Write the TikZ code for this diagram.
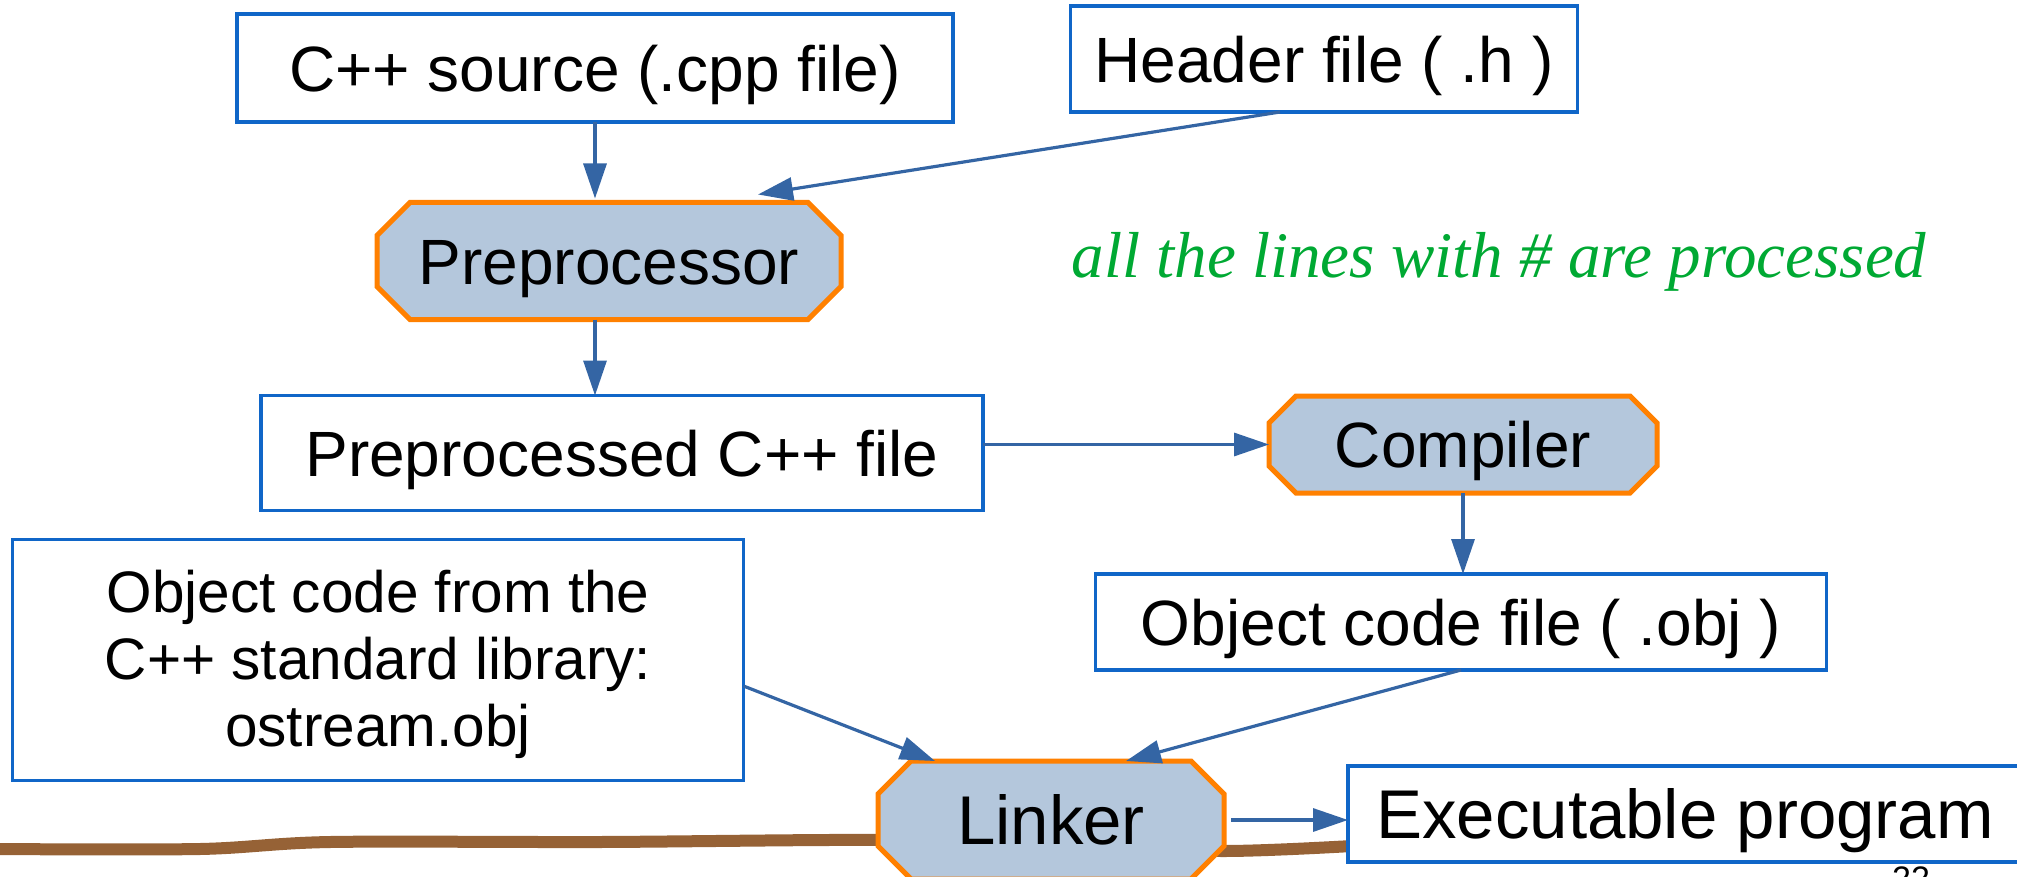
\documentclass[tikz,border=0pt]{standalone}
\usepackage{fontspec}
\setmainfont{Liberation Sans}
\newfontfamily\notefont{Liberation Serif}
\usetikzlibrary{arrows.meta,backgrounds,calc}
\definecolor{boxblue}{RGB}{16,102,200}
\definecolor{arrowblue}{HTML}{3465A4}
\definecolor{octfill}{HTML}{B4C7DC}
\definecolor{octorange}{HTML}{FF8000}
\definecolor{notegreen}{HTML}{00A933}
\definecolor{lineBrown}{RGB}{150,98,54}
\newcommand\drawoct[2]{\draw[octline] ([xshift=#2]#1.north west) -- ([xshift=-#2]#1.north east) -- ([yshift=-#2]#1.north east) -- ([yshift=#2]#1.south east) -- ([xshift=-#2]#1.south east) -- ([xshift=#2]#1.south west) -- ([yshift=#2]#1.south west) -- ([yshift=-#2]#1.north west) -- cycle;}
\begin{document}
\begin{tikzpicture}[x=1pt,y=-1pt,
  box/.style={draw=boxblue, line width=3.5pt, fill=white, inner sep=0pt, outer sep=0pt},
  octnode/.style={draw=none, inner sep=0pt, outer sep=0pt},
  octline/.style={draw=octorange, fill=octfill, line width=5pt, line join=miter},
  conn/.style={draw=arrowblue, line width=3.2pt, -{Triangle[length=35pt,width=23pt]}},
  fs/.style={font=\fontsize{#1}{#1}\selectfont, text height=0.72*#1, text depth=0pt}
]
\useasboundingbox (0,0) rectangle (2017,877);

% nodes
\node[box, fs=64, minimum width=716, minimum height=108] (src) at (595,68) {C++ source (.cpp file)};
\node[box, fs=64, minimum width=507, minimum height=106] (hdr) at (1324,59) {Header file ( .h )};
\node[octnode, fs=64, minimum width=464, minimum height=117] (pre) at (609,261) {Preprocessor};
\node[box, fs=64, minimum width=722, minimum height=115] (ppf) at (622,453) {Preprocessed C++ file};
\node[octnode, fs=64, minimum width=388, minimum height=97] (comp) at (1463,444.5) {Compiler};
\node[box, minimum width=731, minimum height=241, align=center, text height=180pt, text depth=8pt,
      font=\fontsize{58.5}{67}\selectfont] (lib) at (378,660) {Object code from the\\C++ standard library:\\ostream.obj};
\node[box, fs=64, minimum width=731, minimum height=96] (obj) at (1461,622) {Object code file ( .obj )};
\node[octnode, fs=69, minimum width=346, minimum height=118] (lnk) at (1051,820) {Linker};
\node[box, fs=69, minimum width=674, minimum height=96] (exe) at (1685,814) {Executable program};
\node[anchor=base, text=notegreen, inner sep=0pt, font=\notefont\itshape\fontsize{65}{65}\selectfont] (note) at (1499,277) {all the lines with \# are processed};
\node[anchor=north, inner sep=0pt, font=\fontsize{34}{34}\selectfont] (pg) at (1911,867) {22};

\begin{pgfonlayer}{background}
  \draw[lineBrown, line width=12pt] plot[smooth, tension=0.5] coordinates {(-10,849) (200,849) (330,842) (600,842) (880,840) (1050,846) (1224,851) (1352,846)};
  \drawoct{pre}{33pt}
  \drawoct{comp}{27pt}
  \drawoct{lnk}{33pt}
\end{pgfonlayer}

% connectors
\draw[conn, shorten >=4pt] (src.south) -- (src.south |- pre.north);
\draw[conn] ([xshift=-44pt]hdr.south) -- ([xshift=149pt,yshift=8pt]pre.north);
\draw[conn] (src.south |- pre.south) -- (src.south |- ppf.north);
\draw[conn] (ppf.east |- comp.west) -- (comp.west);
\draw[conn] (comp.south) -- (comp.south |- obj.north);
\draw[conn] ([yshift=-26pt]lib.east) -- ([xshift=-116pt]lnk.north);
\draw[conn] (obj.south) -- ([xshift=75pt]lnk.north);
\draw[conn] ([xshift=7pt]lnk.east) -- (lnk.east -| exe.west);
\end{tikzpicture}
\end{document}
